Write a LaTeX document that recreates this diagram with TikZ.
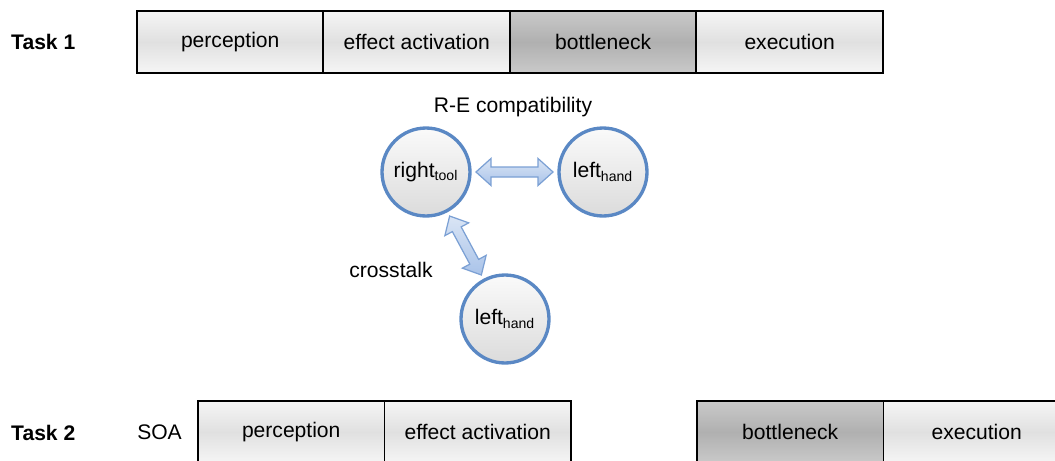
\documentclass[tikz,border=0pt]{standalone}
\usepackage{fontspec}
\setmainfont{Liberation Sans}
\usetikzlibrary{positioning,calc}

\definecolor{respblue}{HTML}{5A88C4}
\definecolor{arrowline}{HTML}{7BA0D4}
\definecolor{arrowtop}{HTML}{DAE5F5}
\definecolor{arrowbot}{HTML}{A9C3E9}

\tikzset{
  phase/.style={draw, line width=1.1pt, minimum width=3.73cm, minimum height=1.24cm,
    outer sep=0pt, inner sep=0pt, top color=gray!8, bottom color=gray!8, middle color=gray!24},
  dark/.style={top color=gray!42, bottom color=gray!42, middle color=gray!62},
  task/.style={font=\fontsize{12}{14}\selectfont\bfseries},
  resp/.style={circle, draw=respblue, line width=1.9pt, minimum size=1.76cm, inner sep=0pt,
    top color=gray!4, bottom color=gray!28},
  fat/.style={draw=arrowline, line width=0.7pt, top color=arrowtop, bottom color=arrowbot}
}

% hollow double arrow between two circles
\newcommand{\fatarrow}[2]{%
  \coordinate (a) at ($(#1)!1cm!(#2)$);
  \coordinate (b) at ($(#2)!1cm!(#1)$);
  \coordinate (a1) at ($(a)!0.3cm!(b)$);
  \coordinate (b1) at ($(b)!0.3cm!(a)$);
  \draw[fat] (a) -- ($(a1)!0.27cm!90:(b)$) -- ($(a1)!0.1cm!90:(b)$)
    -- ($(b1)!0.1cm!-90:(a)$) -- ($(b1)!0.27cm!-90:(a)$) -- (b)
    -- ($(b1)!0.27cm!90:(a)$) -- ($(b1)!0.1cm!90:(a)$)
    -- ($(a1)!0.1cm!-90:(b)$) -- ($(a1)!0.27cm!-90:(b)$) -- cycle;
}

\begin{document}
\begin{tikzpicture}[x=0.02cm, y=-0.02cm, node distance=0pt,
  every node/.style={font=\fontsize{12}{14}\selectfont}]
  \useasboundingbox (0,0) rectangle (1055,460);
  \clip (0,0) rectangle (1055,460);

  % task 1
  \node [task, anchor=west] (t1) at (5,42) {Task 1};
  \node [phase, anchor=west] (p1) at (137,42) {perception};
  \node [phase, right=of p1] (e1) {effect activation};
  \node [phase, dark, right=of e1] (b1) {bottleneck};
  \node [phase, right=of b1] (x1) {execution};

  % responses
  \node [resp] (rt) at (426,172) {right\textsubscript{tool}};
  \node [resp] (lh) at (603,172) {left\textsubscript{hand}};
  \node [resp] (lh2) at (505,319) {left\textsubscript{hand}};
  \node (re) at (513,107) {R-E compatibility};
  \node (ct) at (391,270) {crosstalk};
  \fatarrow{rt}{lh}
  \fatarrow{rt}{lh2}

  % task 2
  \node [task, anchor=west] (t2) at (5,433) {Task 2};
  \node [phase, anchor=west] (p2) at (198,432) {perception};
  \node [phase, right=of p2] (e2) {effect activation};
  \node [left=0.2cm of p2] (soa) {SOA};
  \node [phase, dark, anchor=west] (b2) at (697,432) {bottleneck};
  \node [phase, right=of b2] (x2) {execution};
\end{tikzpicture}
\end{document}
